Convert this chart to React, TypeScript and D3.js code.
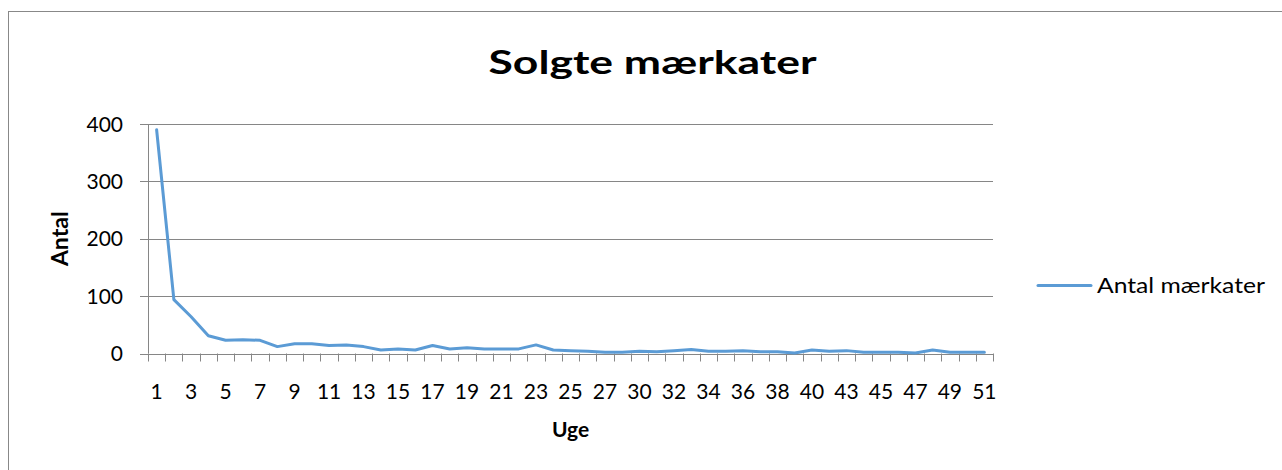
import React from "react";
import * as d3 from "d3";

const weeks: string[] = [
  "1","2","3","4","5","6","7","8","9","10","11","12","13","14","15","16","17","18","19","20",
  "21","22","23","24","25","26","27","28","30","31","32","33","34","35","36","37","38","39","40",
  "41","43","44","45","46","47","48","49","50","51",
];
const soldCounts: number[] = [
  390, 94, 64, 31, 23, 24, 23, 12, 17, 17, 14, 15, 12, 6, 8, 6, 14, 8, 10, 8,
  8, 8, 15, 6, 5, 4, 2, 2, 4, 3, 5, 7, 4, 4, 5, 3, 3, 1, 6,
  4, 5, 2, 2, 2, 1, 6, 2, 2, 2,
];
const yTicks: number[] = [0, 100, 200, 300, 400];
const titleText = "Solgte mærkater";
const xTitle = "Uge";
const yTitle = "Antal";
const seriesName = "Antal mærkater";

const W = 1282;
const H = 470;
const M = { left: 148, right: 993, top: 124, bottom: 353.5 };
const FONT = "Lato, 'Open Sans', sans-serif";
const LINE_COLOR = "#5B9BD5";
const GRID = "#868686";

export default function App() {
  const x = d3.scaleBand<string>().domain(weeks).range([M.left, M.right]).padding(0);
  const y = d3.scaleLinear().domain([0, 400]).range([M.bottom, M.top]);
  const line = d3
    .line<number>()
    .x((_, i) => (x(weeks[i]) as number) + x.bandwidth() / 2)
    .y((d) => y(d));
  const tickEdges = weeks.map((w) => x(w) as number).concat([M.right]);

  return (
    <svg
      width={W}
      height={H}
      style={{ position: "absolute", left: 0, top: 0, background: "#fff" }}
      fontFamily={FONT}
    >
      <rect x={8.5} y={11.5} width={1400} height={600} fill="#fff" stroke="#888" strokeWidth={1} />
      <text
        x={652.5}
        y={74}
        textAnchor="middle"
        fontSize={33}
        fontWeight="bold"
        textLength={328}
        lengthAdjust="spacingAndGlyphs"
        fill="#000"
      >
        {titleText}
      </text>
      {yTicks.map((t) => (
        <g key={t}>
          <line x1={M.left - 8} x2={M.right} y1={Math.round(y(t)) + 0.5} y2={Math.round(y(t)) + 0.5} stroke={GRID} strokeWidth={1} />
          <text x={123} y={y(t) + 7.5} textAnchor="end" fontSize={21} fill="#000">
            {t}
          </text>
        </g>
      ))}
      <line x1={M.left + 0.5} x2={M.left + 0.5} y1={M.top} y2={M.bottom} stroke={GRID} strokeWidth={1} />
      {tickEdges.map((e, i) => (
        <line key={i} x1={Math.round(e) + 0.5} x2={Math.round(e) + 0.5} y1={M.bottom} y2={M.bottom + 8} stroke={GRID} strokeWidth={1} />
      ))}
      {weeks.map((w, i) =>
        i % 2 === 0 ? (
          <text key={w} x={(x(w) as number) + x.bandwidth() / 2} y={398.5} textAnchor="middle" fontSize={21} fill="#000">
            {w}
          </text>
        ) : null
      )}
      <text x={(M.left + M.right) / 2} y={437} textAnchor="middle" fontSize={21} fontWeight="bold" fill="#000">
        {xTitle}
      </text>
      <text
        transform={`translate(${68},${(M.top + M.bottom) / 2}) rotate(-90)`}
        textAnchor="middle"
        fontSize={23}
        fontWeight="bold"
        fill="#000"
      >
        {yTitle}
      </text>
      <path d={line(soldCounts) || ""} fill="none" stroke={LINE_COLOR} strokeWidth={3} strokeLinejoin="round" strokeLinecap="round" />
      <line x1={1038} x2={1091} y1={285.5} y2={285.5} stroke={LINE_COLOR} strokeWidth={3} strokeLinecap="round" />
      <text x={1097} y={293} fontSize={21} textLength={168} lengthAdjust="spacingAndGlyphs" fill="#000">
        {seriesName}
      </text>
    </svg>
  );
}
